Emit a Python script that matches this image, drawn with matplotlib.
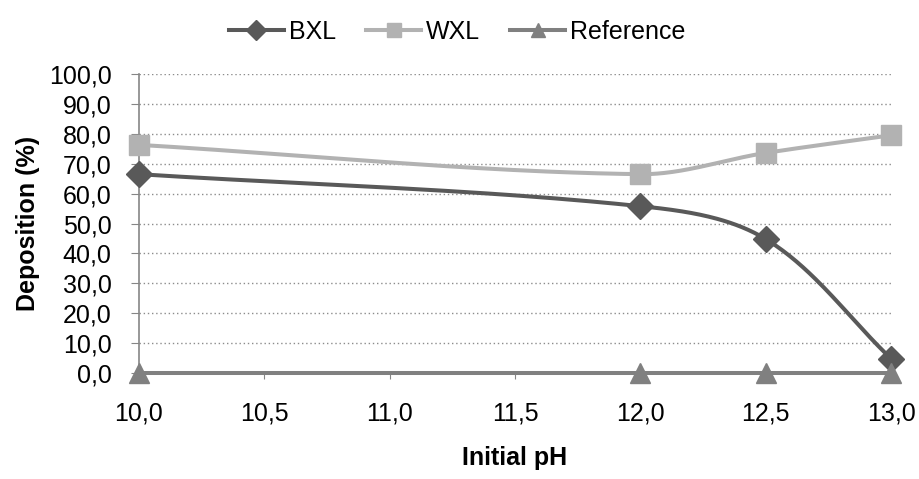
import numpy as np
import matplotlib
matplotlib.use("Agg")
import matplotlib.pyplot as plt
from matplotlib.ticker import MultipleLocator, FuncFormatter

plt.rcParams['font.family'] = ['Liberation Sans', 'DejaVu Sans']

# data
ph = [10.0, 12.0, 12.5, 13.0]
bxl = [66.5, 55.8, 44.8, 4.8]
wxl = [76.3, 66.5, 73.6, 79.5]
reference = [0.0, 0.0, 0.0, 0.0]

C_BXL = '#595959'
C_WXL = '#b2b2b2'
C_REF = '#808080'

# pixels per data unit, used so the smoothing follows screen geometry
SX, SY = 250.7, 2.99


def smooth(xs, ys, n=60):
    # bezier through each point; tangent along neighbour chord,
    # handle length a third of the segment
    p = np.column_stack([np.asarray(xs) * SX, np.asarray(ys) * SY])
    m = len(p)
    tang = []
    for i in range(m):
        d = p[min(i + 1, m - 1)] - p[max(i - 1, 0)]
        tang.append(d / np.hypot(*d))
    out = []
    for i in range(m - 1):
        p1, p2 = p[i], p[i + 1]
        L = np.hypot(*(p2 - p1)) / 3.0
        c1 = p1 + tang[i] * L
        c2 = p2 - tang[i + 1] * L
        t = np.linspace(0, 1, n)[:, None]
        seg = ((1 - t) ** 3) * p1 + 3 * ((1 - t) ** 2) * t * c1 \
            + 3 * (1 - t) * t ** 2 * c2 + t ** 3 * p2
        out.append(seg if i == 0 else seg[1:])
    seg = np.vstack(out)
    return seg[:, 0] / SX, seg[:, 1] / SY


fig = plt.figure(figsize=(9.2, 4.79), dpi=100)
ax = fig.add_axes([0.151, 0.2213, 0.8175, 0.6242])

series = [
    ('BXL', bxl, C_BXL, 'D', 13),
    ('WXL', wxl, C_WXL, 's', 14),
    ('Reference', reference, C_REF, '^', 14),
]
for name, vals, col, mk, ms in series:
    sx, sy = smooth(ph, vals)
    ax.plot(sx, sy, color=col, lw=2.9, zorder=3, clip_on=False,
            solid_capstyle='round')
    ax.plot(ph, vals, ls='none', marker=mk, ms=ms, color=col, mec=col,
            zorder=4, clip_on=False)
    # legend handle
    ax.plot([], [], color=col, lw=2.9, marker=mk, ms=ms * 0.75, label=name)

ax.set_xlim(10.0, 13.0)
ax.set_ylim(0, 100)
ax.xaxis.set_major_locator(MultipleLocator(0.5))
ax.yaxis.set_major_locator(MultipleLocator(10))
comma = FuncFormatter(lambda v, pos: ('%.1f' % v).replace('.', ','))
ax.xaxis.set_major_formatter(comma)
ax.yaxis.set_major_formatter(comma)

ax.grid(axis='y', color='#8c8c8c', ls=(0, (1, 2)), lw=1.0)
ax.set_axisbelow(True)
for s in ['top', 'right']:
    ax.spines[s].set_visible(False)
for s in ['left', 'bottom']:
    ax.spines[s].set_color('#868686')
    ax.spines[s].set_linewidth(1.2)

ax.tick_params(axis='y', direction='out', length=5.8, color='#868686',
               labelsize=18, pad=14)
ax.tick_params(axis='x', direction='out', length=4.5, color='#868686',
               labelsize=18, pad=15.7)

ax.set_ylabel('Deposition (%)', fontsize=18, fontweight='bold', labelpad=6)
ax.set_xlabel('Initial pH', fontsize=18, fontweight='bold', labelpad=15)

fig.legend(loc='upper center', bbox_to_anchor=(0.497, 1.006), ncol=3,
           frameon=False, fontsize=18, handlelength=2.2,
           columnspacing=1.2, handletextpad=0.2)

fig.savefig('out.png', dpi=100)
